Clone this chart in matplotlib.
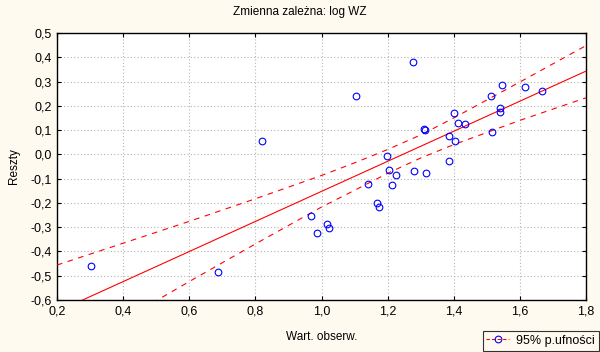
import numpy as np
import matplotlib
matplotlib.use("Agg")
import matplotlib.pyplot as plt
from matplotlib.lines import Line2D

# obserwacje (wartosc obserwowana, reszta)
obs_x = [0.304, 0.686, 0.821, 0.967, 0.985, 1.018, 1.023, 1.103, 1.142, 1.167,
         1.173, 1.199, 1.204, 1.214, 1.226, 1.277, 1.281, 1.310, 1.314, 1.316,
         1.387, 1.387, 1.401, 1.404, 1.413, 1.433, 1.513, 1.515, 1.540, 1.540,
         1.546, 1.616, 1.666]
reszty = [-0.460, -0.485, 0.056, -0.253, -0.324, -0.286, -0.302, 0.242, -0.121, -0.200,
          -0.217, -0.006, -0.064, -0.128, -0.086, 0.382, -0.070, 0.105, 0.100, -0.076,
          0.077, -0.027, 0.172, 0.054, 0.130, 0.125, 0.242, 0.093, 0.192, 0.174,
          0.287, 0.276, 0.262]

# linia regresji i przedzial ufnosci (odczytane)
linia_x = [0.2, 1.8]
linia_y = [-0.648, 0.343]
pas_x = [0.2, 0.4, 0.6, 0.8, 1.0, 1.1, 1.2, 1.3, 1.4, 1.6, 1.8]
pas_gora = [-0.456, -0.366, -0.276, -0.183, -0.087, -0.035, 0.020, 0.080, 0.150, 0.298, 0.448]
pas_dol = [-0.840, -0.682, -0.524, -0.369, -0.217, -0.148, -0.078, -0.015, 0.040, 0.140, 0.233]

x_ticks = [0.2, 0.4, 0.6, 0.8, 1.0, 1.2, 1.4, 1.6, 1.8]
y_ticks = [-0.6, -0.5, -0.4, -0.3, -0.2, -0.1, 0.0, 0.1, 0.2, 0.3, 0.4, 0.5]

tlo = "#fffaf0"
plt.rcParams["font.family"] = ["Liberation Sans", "DejaVu Sans"]

fig = plt.figure(figsize=(6.0, 3.52), dpi=100, facecolor=tlo)
ax = fig.add_axes([0.095, 0.1477, 0.8817, 0.7586])
ax.set_facecolor("white")

# punkty
ax.plot(obs_x, reszty, linestyle="none", marker="o", markersize=4.8,
        markerfacecolor="none", markeredgecolor="#0000ff", markeredgewidth=0.8, zorder=4)

# linia + przedzial
ax.plot(linia_x, linia_y, color="red", lw=0.8, zorder=3)
ax.plot(pas_x, pas_gora, color="red", lw=0.8, linestyle=(0, (5, 5)), zorder=3)
ax.plot(pas_x, pas_dol, color="red", lw=0.8, linestyle=(0, (5, 5)), zorder=3)

ax.set_xlim(0.2, 1.8)
ax.set_ylim(-0.6, 0.5)
ax.set_xticks(x_ticks)
ax.set_yticks(y_ticks)
ax.set_xticklabels([("%.1f" % v).replace(".", ",") for v in x_ticks])
ax.set_yticklabels([("%.1f" % v).replace(".", ",").replace("-0,0", "0,0") for v in y_ticks])
ax.tick_params(direction="in", length=3, width=0.8, top=True, right=True,
               labelsize=9, pad=4, colors="black")

ax.grid(True, color="#b4b4b4", linestyle=(0, (1, 2)), lw=0.8)
for s in ax.spines.values():
    s.set_linewidth(1.0)
    s.set_color("black")

fig.text(0.5, 0.965, "Zmienna zależna: log WZ", ha="center", va="center", fontsize=8.5)
ax.set_xlabel("Wart. obserw.", fontsize=8.5, labelpad=10)
ax.set_ylabel("Reszty", fontsize=8.5, labelpad=7)

# legenda
uchwyt = Line2D([0], [0], color="red", lw=0.8, linestyle=(0, (3, 2)), marker="o",
                markersize=4.8, markerfacecolor="none", markeredgecolor="#0000ff",
                markeredgewidth=0.8)
leg = fig.legend([uchwyt], ["95% p.ufności"], loc="lower right",
                 bbox_to_anchor=(0.998, 0.004), fontsize=9, frameon=True,
                 fancybox=False, handlelength=1.8, handletextpad=0.6,
                 borderpad=0.3, borderaxespad=0.0)
leg.get_frame().set_edgecolor("black")
leg.get_frame().set_facecolor(tlo)
leg.get_frame().set_linewidth(0.8)

fig.savefig("out.png", dpi=100, facecolor=tlo)
